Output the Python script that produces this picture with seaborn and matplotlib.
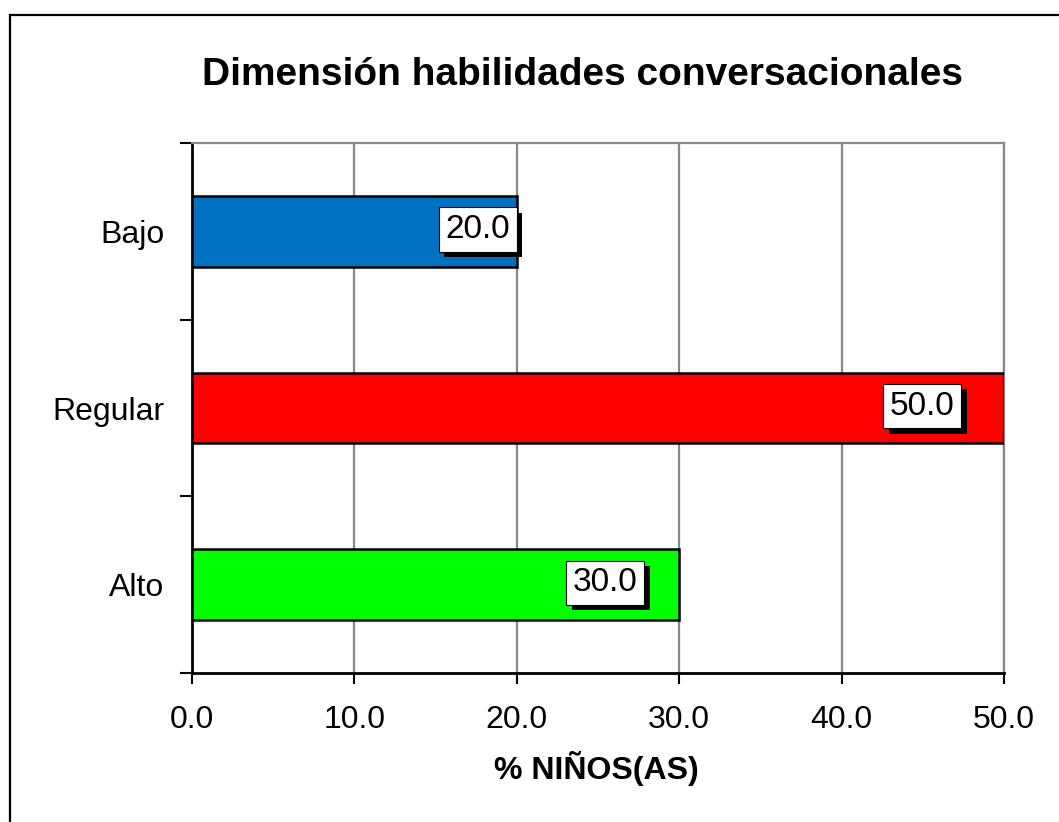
import matplotlib
matplotlib.use("Agg")
import matplotlib.pyplot as plt
import matplotlib.patheffects as pe
from matplotlib.patches import Rectangle
import seaborn as sns

# Data
categories = ["Bajo", "Regular", "Alto"]
values = [20.0, 50.0, 30.0]
bar_colors = ["#0070C0", "#FF0000", "#00FF00"]
label_shift_px = [-39, -82, -74]
x_ticks = [0, 10, 20, 30, 40, 50]

sns.set_theme(style="white")
plt.rcParams["font.family"] = ["Liberation Sans", "DejaVu Sans"]
plt.rcParams["text.color"] = "black"
plt.rcParams["xtick.labelcolor"] = "black"
plt.rcParams["ytick.labelcolor"] = "black"

W, H = 1059, 822
fig = plt.figure(figsize=(W / 100, H / 100), dpi=100)
fig.patch.set_facecolor("white")

# outer frame of the chart area
fig.patches.append(Rectangle((9.5 / W, -0.1), 2.0, 1.1 - 15 / H,
                             transform=fig.transFigure, fill=False,
                             edgecolor="black", linewidth=1.6, zorder=0))

ax = fig.add_axes([192 / W, 1 - 673 / H, (1004 - 192) / W, (673 - 143) / H])

sns.barplot(x=values, y=categories, hue=categories, palette=bar_colors,
            legend=False, orient="h", width=0.4, edgecolor="black",
            linewidth=1.8, saturation=1, ax=ax, zorder=3)

ax.set_xlim(0, 50)
ax.set_ylim(2.5, -0.5)
ax.set_xticks(x_ticks)
ax.set_xticklabels([f"{v:.1f}" for v in x_ticks], fontsize=23)
ax.xaxis.grid(True, color="#888888", linewidth=1.6, zorder=0)
ax.set_axisbelow(True)

ax.set_yticks(range(len(categories)))
ax.set_yticklabels(categories, fontsize=23)
ax.set_yticks([-0.5, 0.5, 1.5, 2.5], minor=True)
ax.tick_params(axis="y", which="major", length=0, pad=20)
ax.tick_params(axis="y", which="minor", length=9, width=1.5, color="black",
               direction="out", left=True)
ax.tick_params(axis="x", which="major", length=8, width=1.5, color="black",
               direction="out", bottom=True, pad=15)

for side in ["left", "bottom"]:
    ax.spines[side].set_color("black")
    ax.spines[side].set_linewidth(2)
for side in ["top", "right"]:
    ax.spines[side].set_color("#888888")
    ax.spines[side].set_linewidth(1.6)

ax.set_xlabel("")
ax.set_ylabel("")

# value labels in white boxes with a drop shadow
for i, (v, dx) in enumerate(zip(values, label_shift_px)):
    t = ax.annotate(f"{v:.1f}", xy=(v, i), xytext=(dx, 2),
                    textcoords="offset pixels", ha="center", va="center",
                    fontsize=24, color="black", zorder=5,
                    bbox=dict(boxstyle="square,pad=0.2", fc="white",
                              ec="black", lw=0.8))
    t.get_bbox_patch().set_path_effects([
        pe.SimplePatchShadow(offset=(4, -4), shadow_rgbFace="black", alpha=1.0),
        pe.Normal()])

fig.text(583 / W, 1 - 75 / H, "Dimensión habilidades conversacionales",
         ha="center", va="center", fontsize=28, fontweight="bold")
fig.text(596 / W, 1 - 768 / H, "% NIÑOS(AS)", ha="center", va="center",
         fontsize=23, fontweight="bold")

fig.savefig("out.png", dpi=100, facecolor="white")
